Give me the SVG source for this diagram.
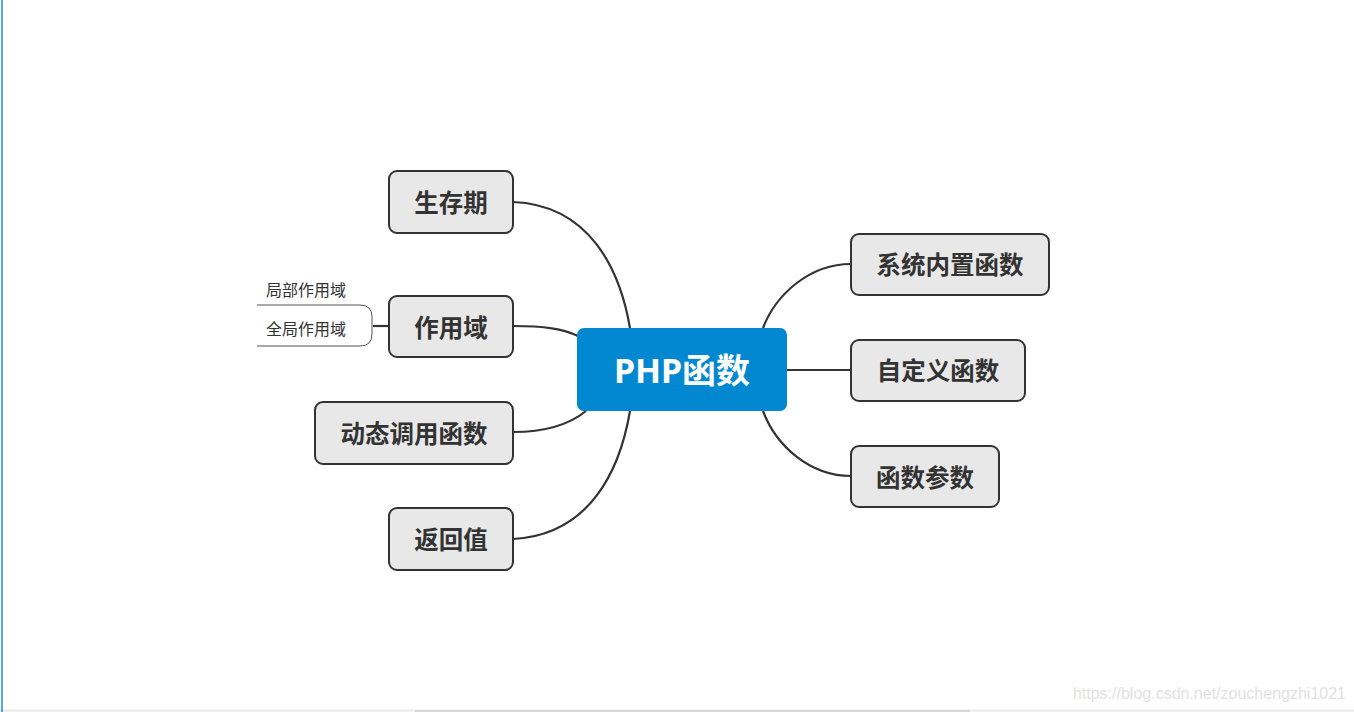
<svg xmlns="http://www.w3.org/2000/svg" width="1354" height="712" viewBox="0 0 1354 712">
<style>
.node rect{fill:#e8e8e8;stroke:#333;stroke-width:2}
.node text{font-family:"Noto Sans","Noto Sans CJK SC",sans-serif;font-weight:bold;font-size:24.5px;fill:#333;text-anchor:middle;dominant-baseline:central}
.conn path{fill:none;stroke:#333;stroke-width:2.2}
.sub text{font-family:"Noto Sans","Noto Sans CJK SC",sans-serif;font-size:16px;fill:#333;text-anchor:middle;dominant-baseline:central}
.sub path{fill:none;stroke:#555;stroke-width:1}
</style>
<rect x="0" y="0" width="1354" height="712" fill="#fff"/>
<rect x="0" y="709" width="1354" height="3" fill="#f0f0f0"/>
<rect x="415" y="710" width="555" height="2" fill="#d8d8d8"/>
<line x1="2" y1="0" x2="2" y2="712" stroke="#1e88e5" stroke-width="1.5"/>
<g class="conn" id="connectors">
<path d="M513,202 C590,205 620,270 630,328"/>
<path d="M513,326 C545,326 563,329 578,336"/>
<path d="M513,432 C548,432 570,424 586,411"/>
<path d="M513,539 C590,535 620,470 630,411"/>
<path d="M763,328 C776,294 810,264 851,264"/>
<path d="M787,370 L851,370"/>
<path d="M763,411 C776,446 810,476 851,476"/>
<path d="M373,326 L389,326"/>
</g>
<g id="center">
<rect x="577" y="328" width="210" height="83" rx="7" fill="#0288d1"/>
<text x="682" y="370" font-family="Noto Sans,Noto Sans CJK SC,sans-serif" font-weight="bold" font-size="34" fill="#fff" text-anchor="middle" dominant-baseline="central">PHP函数</text>
</g>
<g class="node" id="n-shengcunqi"><rect x="389" y="171" width="124" height="62" rx="8"/><text x="451" y="202">生存期</text></g>
<g class="node" id="n-zuoyongyu"><rect x="389" y="296" width="124" height="61" rx="8"/><text x="451" y="327">作用域</text></g>
<g class="node" id="n-dongtai"><rect x="315" y="402" width="198" height="62" rx="8"/><text x="414" y="433">动态调用函数</text></g>
<g class="node" id="n-fanhui"><rect x="389" y="508" width="124" height="62" rx="8"/><text x="451" y="539">返回值</text></g>
<g class="node" id="n-xitong"><rect x="851" y="234" width="198" height="61" rx="8"/><text x="950" y="264">系统内置函数</text></g>
<g class="node" id="n-zidingyi"><rect x="851" y="340" width="174" height="61" rx="8"/><text x="938" y="370">自定义函数</text></g>
<g class="node" id="n-canshu"><rect x="851" y="446" width="148" height="61" rx="8"/><text x="925" y="477">函数参数</text></g>
<g class="sub" id="n-jubu"><text x="306" y="290">局部作用域</text></g>
<g class="sub" id="n-quanju"><text x="306" y="329">全局作用域</text></g>
<g class="sub" id="bracket"><path d="M257,305 L360,305 Q372,305 372,317 L372,334 Q372,346 360,346 L257,346"/></g>
<text x="1346" y="699" font-family="Liberation Sans,sans-serif" font-size="16" fill="#e2e2e2" text-anchor="end">https://blog.csdn.net/zouchengzhi1021</text>
</svg>
